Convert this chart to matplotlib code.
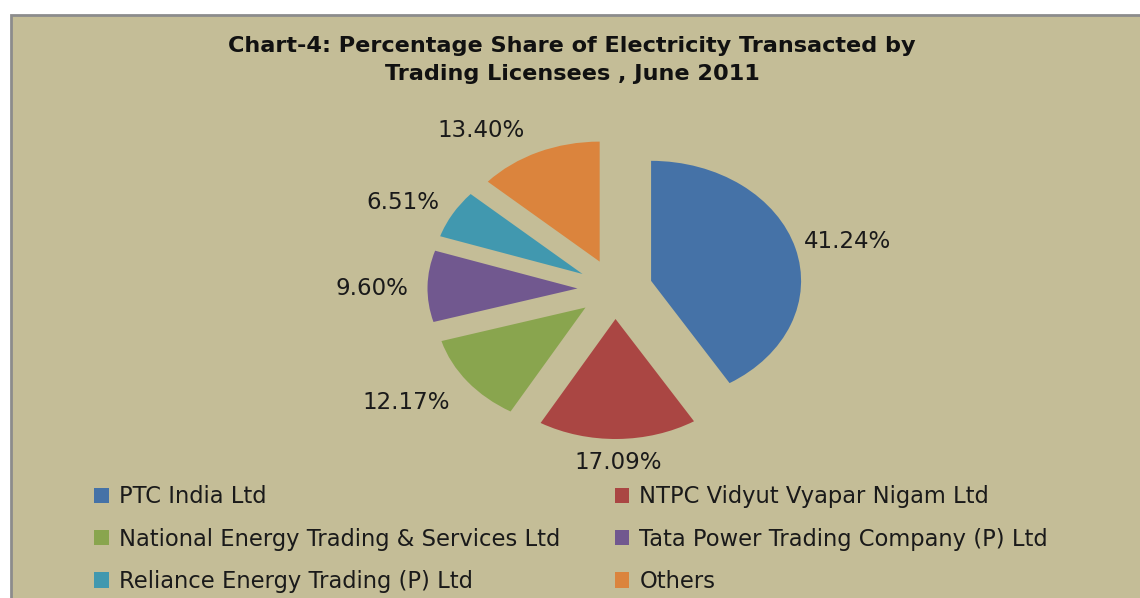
import numpy as np
import matplotlib
matplotlib.use("Agg")
import matplotlib.pyplot as plt
from matplotlib.patches import Rectangle, Patch

# ---- data ----
categories = ["PTC India Ltd", "NTPC Vidyut Vyapar Nigam Ltd",
              "National Energy Trading & Services Ltd",
              "Tata Power Trading Company (P) Ltd",
              "Reliance Energy Trading (P) Ltd", "Others"]
shares = [41.24, 17.09, 12.17, 9.60, 6.51, 13.40]
colors = ["#4572A7", "#AA4643", "#89A54E", "#71588F", "#4198AF", "#DB843D"]
title = "Chart-4: Percentage Share of Electricity Transacted by\nTrading Licensees , June 2011"

W, H = 1140, 598
fig = plt.figure(figsize=(W / 100, H / 100), dpi=100)
fig.patch.set_facecolor("white")

# chart area frame
bg = "#C4BD97"
fig.patches.append(Rectangle((11 / W, -0.1), 1.2, 1.1 - 15 / H, transform=fig.transFigure,
                             facecolor=bg, edgecolor="#8C8C8C", linewidth=2.0, zorder=-5))

# pie axes (stretched horizontally like the original)
cx, cy = 615, 289
rx, ry = 150, 120
xl, yl = 2.5, 1.6
axw, axh = 2 * xl * rx, 2 * yl * ry
ax = fig.add_axes([(cx - axw / 2) / W, 1 - (cy + axh / 2) / H, axw / W, axh / H])
ax.set_facecolor("none")
wedges, _ = ax.pie(shares, colors=colors, startangle=90, counterclock=False,
                   explode=[0.25] * len(shares), radius=1.0,
                   wedgeprops=dict(linewidth=0))
ax.set_aspect("auto")
ax.set_xlim(-xl, xl)
ax.set_ylim(-yl, yl)
ax.axis("off")

# data labels
lab_dist = [1.60, 1.45, 1.68, 1.62, 1.59, 1.59]
lab_shift = [1.5, 0, 4, -1, -3, -10]  # degrees
cum = np.cumsum([0] + shares[:-1])
for i, v in enumerate(shares):
    mid = (cum[i] + v / 2) / 100 * 360 + lab_shift[i]
    th = np.deg2rad(mid)
    ax.text(lab_dist[i] * np.sin(th), lab_dist[i] * np.cos(th), f"{v:.2f}%",
            ha="center", va="center", fontsize=16.5, family="DejaVu Sans", color="#1a1a1a")

# title
fig.text(572 / W, 1 - 60 / H, title, ha="center", va="center", fontsize=16.1,
         fontweight="bold", family="DejaVu Sans", linespacing=1.55, color="#111111")

# legend (row-major order like the original)
handles = [Patch(facecolor=c, edgecolor="none") for c in colors]
order = [0, 2, 4, 1, 3, 5]
leg = fig.legend([handles[i] for i in order], [categories[i] for i in order],
                 ncol=2, loc="upper left", bbox_to_anchor=(85 / W, 1 - 476 / H),
                 frameon=False, prop=dict(family="DejaVu Sans", size=16.3),
                 handlelength=0.65, handleheight=0.65, handletextpad=0.45,
                 columnspacing=2.4, labelspacing=0.86, borderaxespad=0)
for t in leg.get_texts():
    t.set_color("#1a1a1a")

fig.savefig("out.png", dpi=100, facecolor=fig.get_facecolor())
